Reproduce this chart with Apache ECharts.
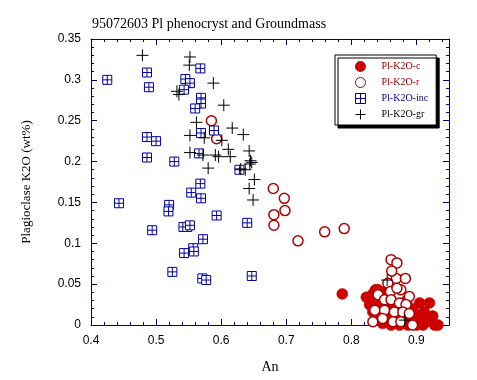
<!DOCTYPE html>
<html><head><meta charset="utf-8">
<script src="https://cdn.jsdelivr.net/npm/echarts@6/dist/echarts.min.js"></script>
<style>html,body{margin:0;padding:0;background:#fff}#c{width:477px;height:380px}</style>
</head><body><div id="c"></div>
<script>
// ---- data ----
const titleText = '95072603 Pl phenocryst and Groundmass';
const xName = 'An';
const yName = 'Plagioclase K2O (wt%)';
const seriesNames = ['Pl-K2O-c', 'Pl-K2O-r', 'Pl-K2O-inc', 'Pl-K2O-gr'];

const coreAn  = [0.786,0.823,0.837,0.845,0.828,0.833,0.830,0.833,0.836,0.840,0.848,0.855,0.861,0.868,0.874,0.880,0.887,0.893,0.900,0.905,0.905,0.920,0.912,0.925,0.928,0.933,0.915,0.894,0.841,0.850,0.858,0.870,0.885,0.897,0.920,0.910,0.865,0.845];
const coreK2O = [0.038,0.034,0.043,0.036,0.025,0.038,0.027,0.016,0.006,0.012,0.002,0.010,0.000,0.006,0.000,0.010,0.000,0.006,0.000,0.012,0.027,0.027,0.016,0.011,0.000,0.000,0.004,0.020,0.043,0.040,0.020,0.022,0.030,0.014,0.006,0.000,0.012,0.026];

const rimAn  = [0.585,0.593,0.680,0.697,0.698,0.681,0.681,0.718,0.759,0.789,0.861,0.870,0.869,0.883,0.856,0.860,0.876,0.889,0.841,0.851,0.861,0.874,0.884,0.836,0.851,0.866,0.879,0.848,0.864,0.889,0.894,0.876,0.833,0.870,0.862];
const rimK2O = [0.250,0.228,0.167,0.155,0.140,0.135,0.122,0.103,0.114,0.118,0.080,0.076,0.057,0.057,0.051,0.041,0.043,0.035,0.037,0.031,0.031,0.027,0.025,0.018,0.018,0.016,0.016,0.008,0.004,0.014,0.000,0.004,0.004,0.045,0.066];

const incAn  = [0.425,0.486,0.489,0.568,0.545,0.552,0.543,0.569,0.569,0.560,0.569,0.589,0.486,0.500,0.566,0.486,0.528,0.628,0.568,0.554,0.569,0.443,0.520,0.519,0.593,0.640,0.494,0.542,0.548,0.552,0.572,0.557,0.558,0.543,0.525,0.571,0.577,0.647];
const incK2O = [0.300,0.309,0.291,0.314,0.301,0.296,0.288,0.278,0.271,0.265,0.235,0.238,0.230,0.225,0.210,0.205,0.200,0.190,0.173,0.162,0.155,0.149,0.147,0.139,0.134,0.125,0.116,0.120,0.120,0.122,0.105,0.094,0.090,0.088,0.065,0.057,0.055,0.060];

const grAn  = [0.479,0.552,0.551,0.588,0.532,0.535,0.604,0.562,0.617,0.634,0.552,0.574,0.601,0.611,0.643,0.552,0.572,0.591,0.596,0.614,0.645,0.647,0.644,0.580,0.630,0.637,0.651,0.643,0.649,0.855,0.882];
const grK2O = [0.330,0.328,0.318,0.296,0.286,0.282,0.269,0.248,0.241,0.233,0.232,0.229,0.226,0.215,0.213,0.211,0.208,0.208,0.206,0.206,0.201,0.199,0.197,0.192,0.191,0.190,0.178,0.167,0.153,0.055,0.006];

const xTicks = [0.4, 0.5, 0.6, 0.7, 0.8, 0.9];
const yTicks = [0, 0.05, 0.1, 0.15, 0.2, 0.25, 0.3, 0.35];

// ---- chart ----
const zip = (a, b) => a.map((v, i) => [v, b[i]]);
const navy = '#000080';
const serif = 'Liberation Serif';
const sans = 'Liberation Sans';
const xMin = xTicks[0], xMax = 0.95, yMin = yTicks[0], yMax = yTicks[yTicks.length - 1];

function xAxisDef(pos, major, labels) {
  return {
    type: 'value', position: pos, min: xMin, max: xMax,
    interval: major ? 0.1 : 0.02,
    axisLine: { show: major, onZero: false, lineStyle: { color: navy, width: 1 } },
    axisTick: { show: true, inside: true, length: major ? 6 : 3, lineStyle: { color: navy, width: 1 } },
    splitLine: { show: false },
    axisLabel: {
      show: labels, margin: 10, color: '#000', fontFamily: sans, fontSize: 12,
      formatter: v => xTicks.some(t => Math.abs(t - v) < 1e-6) ? String(+v.toFixed(1)) : ''
    },
    name: labels ? xName : '', nameLocation: 'middle', nameGap: 35,
    nameTextStyle: { color: '#000', fontFamily: serif, fontSize: 14 }
  };
}
function yAxisDef(pos, labels) {
  return {
    type: 'value', position: pos, min: yMin, max: yMax, interval: 0.05,
    axisLine: { show: true, onZero: false, lineStyle: { color: navy, width: 1 } },
    axisTick: { show: true, inside: true, length: 6, lineStyle: { color: navy, width: 1 } },
    minorTick: { show: true, splitNumber: 5, length: 3, lineStyle: { color: navy, width: 1 } },
    splitLine: { show: false },
    axisLabel: {
      show: labels, margin: 10, color: '#000', fontFamily: sans, fontSize: 12,
      formatter: v => String(+v.toFixed(2))
    },
    name: labels ? yName : '', nameLocation: 'middle', nameGap: 58,
    nameTextStyle: { color: '#000', fontFamily: serif, fontSize: 13 }
  };
}

const chart = echarts.init(document.getElementById('c'), null, { renderer: 'canvas' });
chart.setOption({
  animation: false,
  backgroundColor: '#fff',
  title: {
    text: titleText, left: 92, top: 17, padding: 0,
    textStyle: { fontFamily: serif, fontSize: 14, fontWeight: 'normal', color: '#000' }
  },
  grid: { left: 91, right: 28, top: 39, bottom: 55, containLabel: false },
  xAxis: [xAxisDef('bottom', true, true), xAxisDef('bottom', false, false), xAxisDef('top', true, false), xAxisDef('top', false, false)],
  yAxis: [yAxisDef('left', true), yAxisDef('right', false)],
  legend: {
    orient: 'vertical', left: 335, top: 55, padding: [6, 8, 5, 20],
    itemGap: 5, itemWidth: 10, itemHeight: 10, selectedMode: false,
    backgroundColor: '#fff', borderColor: '#000', borderWidth: 1, borderRadius: 0,
    shadowColor: '#000', shadowOffsetX: 3, shadowOffsetY: 3, shadowBlur: 0,
    itemStyle: { borderWidth: 1 },
    textStyle: { fontFamily: serif, fontSize: 10, padding: [0, 0, 0, 11] },
    data: [
      { name: seriesNames[0], textStyle: { color: '#a00000' } },
      { name: seriesNames[1], textStyle: { color: '#a00000' } },
      { name: seriesNames[2], textStyle: { color: '#000090' } },
      { name: seriesNames[3], textStyle: { color: '#000' } }
    ]
  },
  series: [
    { name: seriesNames[0], type: 'scatter', data: zip(coreAn, coreK2O), symbol: 'circle', symbolSize: 11,
      itemStyle: { color: '#cc0000', borderColor: '#cc0000', borderWidth: 0.5, opacity: 1 } },
    { name: seriesNames[1], type: 'scatter', data: zip(rimAn, rimK2O), symbol: 'circle', symbolSize: 10,
      itemStyle: { color: '#fff', borderColor: '#b00000', borderWidth: 1.5, opacity: 1 } },
    { name: seriesNames[2], type: 'scatter', data: zip(incAn, incK2O),
      symbol: 'path://M0,0H10V10H0Z M5,0V10 M0,5H10', symbolSize: 9,
      itemStyle: { color: '#fff', borderColor: '#0000a0', borderWidth: 1, opacity: 1 } },
    { name: seriesNames[3], type: 'scatter', data: zip(grAn, grK2O),
      symbol: 'path://M5,0V10M0,5H10', symbolSize: 12,
      itemStyle: { color: 'rgba(0,0,0,0)', borderColor: '#000', borderWidth: 1, opacity: 1 } }
  ]
});
</script>
</body></html>
